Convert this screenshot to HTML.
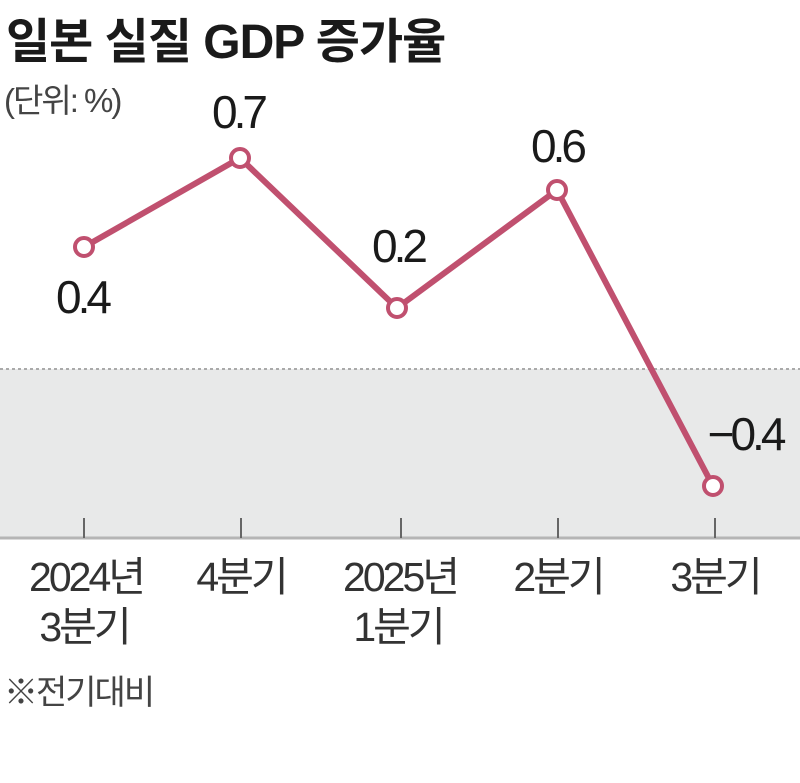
<!DOCTYPE html>
<html><head><meta charset="utf-8"><style>
body{margin:0;background:#fff;}
svg text{font-family:"Liberation Sans","Noto Sans CJK KR",sans-serif;}
</style></head><body>
<svg width="800" height="778" viewBox="0 0 800 778" xmlns="http://www.w3.org/2000/svg">
<rect width="800" height="778" fill="#fff"/>
<text x="6" y="58" font-size="48" font-weight="bold" fill="#1a1a1a" letter-spacing="-1">일본 실질 GDP 증가율</text>
<text x="4" y="112" font-size="33" fill="#444" letter-spacing="-2">(단위: %)</text>
<rect x="0" y="369" width="800" height="169" fill="#e8e9e9"/>
<line x1="0" y1="369" x2="800" y2="369" stroke="#aaa" stroke-width="2" stroke-dasharray="3,3"/>
<line x1="0" y1="538" x2="800" y2="538" stroke="#b5b5b5" stroke-width="3"/>
<g stroke="#666" stroke-width="2">
<line x1="84" y1="518" x2="84" y2="538"/><line x1="241" y1="518" x2="241" y2="538"/>
<line x1="401" y1="518" x2="401" y2="538"/><line x1="558" y1="518" x2="558" y2="538"/>
<line x1="715" y1="518" x2="715" y2="538"/>
</g>
<polyline points="84,247 240,158 397,308 557,190 713,486" fill="none" stroke="#c0506f" stroke-width="6" stroke-linejoin="round"/>
<g fill="#fff" stroke="#c0506f" stroke-width="4">
<circle cx="84" cy="247" r="9"/><circle cx="240" cy="158" r="9"/><circle cx="397" cy="308" r="9"/><circle cx="557" cy="190" r="9"/><circle cx="713" cy="486" r="9"/>
</g>
<g font-size="46" fill="#1a1a1a" text-anchor="middle" letter-spacing="-4">
<text x="82" y="313">0.4</text>
<text x="238" y="128">0.7</text>
<text x="398" y="262">0.2</text>
<text x="557" y="162">0.6</text>
<text x="745" y="450">−0.4</text>
</g>
<g font-size="41" fill="#333" text-anchor="middle" letter-spacing="-3">
<text x="86" y="591">2024년</text><text x="84" y="641">3분기</text>
<text x="241" y="591">4분기</text>
<text x="400" y="591">2025년</text><text x="398" y="641">1분기</text>
<text x="558" y="591">2분기</text>
<text x="715" y="591">3분기</text>
</g>
<text x="4" y="704" font-size="34" fill="#444" letter-spacing="-2">※전기대비</text>
</svg>
</body></html>
